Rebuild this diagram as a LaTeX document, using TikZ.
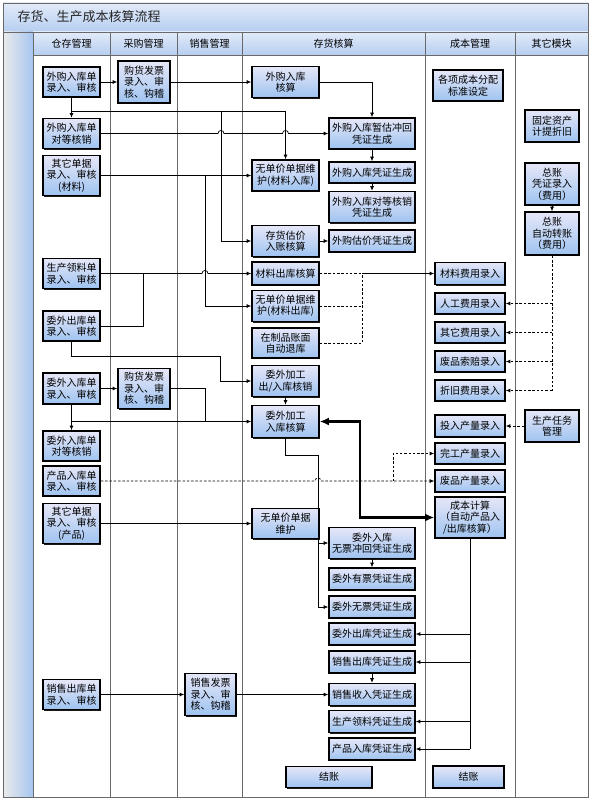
\documentclass[tikz,border=0pt]{standalone}
\usepackage{fontspec}
\newfontfamily\cjk{Noto Sans CJK SC}
\usetikzlibrary{arrows.meta,shadows}
\definecolor{boxtop}{RGB}{230,231,248}
\definecolor{boxbot}{RGB}{158,195,240}
\definecolor{hdrtop}{RGB}{226,235,249}
\definecolor{hdrbot}{RGB}{182,206,240}
\definecolor{stripblue}{RGB}{166,198,240}
\definecolor{lanegray}{RGB}{105,105,105}
\tikzset{
  box/.style={draw=black, line width=1.6pt, top color=boxtop, bottom color=boxbot,
    align=center, inner sep=1pt, font=\cjk\fontsize{10}{11.5}\selectfont,
    drop shadow={shadow xshift=1.4pt, shadow yshift=-1.4pt, fill=black!90, opacity=1}},
  hdr/.style={font=\cjk\fontsize{10}{11.5}\selectfont},
  ln/.style={line width=0.7pt, draw=black},
  arr/.style={ln, -{Latex[length=4.5pt,width=4pt]}},
  dsh/.style={ln, dash pattern=on 2.5pt off 1.8pt},
  thk/.style={line width=2.2pt, {Latex[length=9pt,width=8pt]}-{Latex[length=9pt,width=8pt]}},
  lane/.style={draw=lanegray, line width=0.8pt}
}
\begin{document}
\begin{tikzpicture}[x=1pt, y=-1pt]
        \useasboundingbox (0,0) rectangle (591,800);
        % title bar, left strip, lane headers
        \shade[top color=hdrtop, bottom color=hdrbot] (3,3) rectangle (588,32);
        \node[anchor=west, font=\cjk\fontsize{13}{15}\selectfont, text=black!85] (title) at (14,17) {存货、生产成本核算流程};
        \shade[left color=black!8, right color=stripblue] (3,32) rectangle (33,797);
        \foreach \a/\b in {33/110, 110/177, 177/242, 242/425, 425/515, 515/588}
          \shade[top color=hdrtop, bottom color=hdrbot] (\a,32) rectangle (\b,55);
        \node[hdr] (hCc) at (71.5,43.5) {仓存管理};
        \node[hdr] (hCg) at (143.5,43.5) {采购管理};
        \node[hdr] (hXs) at (209.5,43.5) {销售管理};
        \node[hdr] (hCh) at (333.5,43.5) {存货核算};
        \node[hdr] (hCb) at (470,43.5) {成本管理};
        \node[hdr] (hQt) at (551.5,43.5) {其它模块};
        \foreach \x in {33, 110, 177, 242, 425, 515}
          \draw[lane] (\x,32) -- (\x,797);
        \draw[lane] (33,55) -- (588,55);
        \draw[lane] (3,32) -- (588,32);
        \draw[lane] (3,3) rectangle (588,797);

        % 仓存管理
        \node[box, minimum width=57, minimum height=30] (cgA) at (71.5,82) {外购入库单\\录入、审核};
        \node[box, minimum width=57, minimum height=30] (cgB) at (71.5,133.5) {外购入库单\\对等核销};
        \node[box, minimum width=57, minimum height=40] (cgC) at (71.5,175.5) {其它单据\\录入、审核\\(材料)};
        \node[box, minimum width=57, minimum height=30] (cgD) at (71.5,273.5) {生产领料单\\录入、审核};
        \node[box, minimum width=57, minimum height=30] (cgE) at (71.5,326) {委外出库单\\录入、审核};
        \node[box, minimum width=57, minimum height=31] (cgF) at (71.5,388.5) {委外入库单\\录入、审核};
        \node[box, minimum width=57, minimum height=30] (cgG) at (71.5,446) {委外入库单\\对等核销};
        \node[box, minimum width=57, minimum height=30] (cgH) at (71.5,481) {产品入库单\\录入、审核};
        \node[box, minimum width=57, minimum height=40] (cgI) at (71.5,523.5) {其它单据\\录入、审核\\(产品)};
        \node[box, minimum width=57, minimum height=30] (cgJ) at (71.5,694.5) {销售出库单\\录入、审核};

        % 采购管理, 销售管理
        \node[box, minimum width=52, minimum height=42] (cgFpA) at (144,82) {购货发票\\录入、审\\核、钩稽};
        \node[box, minimum width=52, minimum height=40] (cgFpB) at (144,388.5) {购货发票\\录入、审\\核、钩稽};
        \node[box, minimum width=51, minimum height=42] (xsFp) at (210.5,694.5) {销售发票\\录入、审\\核、钩稽};

        % 存货核算
        \node[box, minimum width=67, minimum height=31] (chA) at (285.5,82) {外购入库\\核算};
        \node[box, minimum width=67, minimum height=31] (chB) at (285.5,175.5) {无单价单据维\\护(材料入库)};
        \node[box, minimum width=67, minimum height=31] (chC) at (285.5,241) {存货估价\\入账核算};
        \node[box, minimum width=67, minimum height=23] (chD) at (285.5,273.5) {材料出库核算};
        \node[box, minimum width=67, minimum height=31] (chE) at (285.5,306) {无单价单据维\\护(材料出库)};
        \node[box, minimum width=67, minimum height=30] (chF) at (285.5,343) {在制品账面\\自动退库};
        \node[box, minimum width=67, minimum height=31] (chG) at (285.5,381) {委外加工\\出/入库核销};
        \node[box, minimum width=67, minimum height=32] (chH) at (285.5,421.5) {委外加工\\入库核算};
        \node[box, minimum width=67, minimum height=30] (chI) at (285.5,523.5) {无单价单据\\维护};
        \node[box, minimum width=86, minimum height=21] (chJ) at (329,777) {结账};

        \node[box, minimum width=86, minimum height=31] (pzA) at (372,133.5) {外购入库暂估冲回\\凭证生成};
        \node[box, minimum width=86, minimum height=21] (pzB) at (372,172.5) {外购入库凭证生成};
        \node[box, minimum width=86, minimum height=31] (pzC) at (372,207) {外购入库对等核销\\凭证生成};
        \node[box, minimum width=86, minimum height=22] (pzD) at (372,241) {外购估价凭证生成};
        \node[box, minimum width=86, minimum height=31] (pzE) at (372,543) {委外入库\\无票冲回凭证生成};
        \node[box, minimum width=86, minimum height=22] (pzF) at (372,579) {委外有票凭证生成};
        \node[box, minimum width=86, minimum height=22] (pzG) at (372,607) {委外无票凭证生成};
        \node[box, minimum width=86, minimum height=22] (pzH) at (372,634) {委外出库凭证生成};
        \node[box, minimum width=86, minimum height=22] (pzI) at (372,662) {销售出库凭证生成};
        \node[box, minimum width=86, minimum height=22] (pzJ) at (372,694.5) {销售收入凭证生成};
        \node[box, minimum width=86, minimum height=22] (pzK) at (372,721.5) {生产领料凭证生成};
        \node[box, minimum width=86, minimum height=22] (pzL) at (372,749) {产品入库凭证生成};

        % 成本管理
        \node[box, minimum width=70, minimum height=31] (cbA) at (468,85.5) {各项成本分配\\标准设定};
        \node[box, minimum width=70, minimum height=22] (cbB) at (470,273.5) {材料费用录入};
        \node[box, minimum width=70, minimum height=21] (cbC) at (470,303.5) {人工费用录入};
        \node[box, minimum width=70, minimum height=21] (cbD) at (470,332.5) {其它费用录入};
        \node[box, minimum width=70, minimum height=21] (cbE) at (470,361.5) {废品索赔录入};
        \node[box, minimum width=70, minimum height=21] (cbF) at (470,390.5) {折旧费用录入};
        \node[box, minimum width=70, minimum height=22] (cbG) at (470,426) {投入产量录入};
        \node[box, minimum width=70, minimum height=21] (cbH) at (470,453.5) {完工产量录入};
        \node[box, minimum width=70, minimum height=22] (cbI) at (470,481) {废品产量录入};
        \node[box, minimum width=70, minimum height=41] (cbJ) at (470,517.5) {成本计算\\（自动产品入\\/出库核算）};
        \node[box, minimum width=71, minimum height=22] (cbK) at (468.5,777) {结账};

        % 其它模块
        \node[box, minimum width=54, minimum height=32] (qtA) at (552,126) {固定资产\\计提折旧};
        \node[box, minimum width=54, minimum height=42] (qtB) at (552,184) {总账\\凭证录入\\（费用）};
        \node[box, minimum width=54, minimum height=43] (qtC) at (552,233.5) {总账\\自动转账\\（费用）};
        \node[box, minimum width=54, minimum height=32] (qtD) at (552,426) {生产任务\\管理};

        % 外购入库
        \draw[arr] (cgA.east) -- (cgFpA.west);
        \draw[arr] (cgFpA.east) -- (chA.west);
        \draw[arr] (cgA.south) -- (cgB.north);
        \draw[arr] (chA.east) -| (pzA.north);
        \coordinate (jA) at (71.5,111);
        \coordinate (jB) at (221,111);
        \draw[arr] (jA) -| (chB.north);
        \draw[arr] (jB) |- (chC.west);
        \draw[arr] (cgB.east) -- (218,133.5) .. controls (218,129.5) and (224,129.5) .. (224,133.5)
          -- (282.5,133.5) .. controls (282.5,129.5) and (288.5,129.5) .. (288.5,133.5) -- (pzA.west);
        \draw[arr] (cgC.east) -- (chB.west);
        \coordinate (jC) at (205,175.5);
        \draw[arr] (jC) |- (chE.west);
        \draw[arr] (pzA.south) -- (pzB.north);
        \draw[arr] (pzB.south) -- (pzC.north);
        \draw[arr] (chC.east) -- (pzD.west);

        % 材料出库, 委外
        \draw[arr] (cgD.east) -- (202,273.5) .. controls (202,269.5) and (208,269.5) .. (208,273.5) -- (chD.west);
        \coordinate (jE) at (143,273.5);
        \draw[ln] (cgE.east) -| (jE);
        \draw[arr] (cgE.south) |- (220,356) |- (chG.west);
        \draw[arr] (cgF.east) -- (cgFpB.west);
        \draw[arr] (cgF.south) -- (cgG.north);
        \coordinate (jF) at (205,421.5);
        \draw[ln] (cgFpB.east) -| (jF);
        \draw[arr] (71.5,421.5) -- (chH.west);
        \draw[arr] (chG.south) -- (chH.north);
        \draw[thk] (chH.east) -- (360,421.5) |- (cbJ.west);
        \coordinate (jW) at (318,543);
        \draw[arr] (chH.south) |- (318,455) |- (pzE.west);
        \draw[arr] (jW) |- (pzG.west);
        \draw[arr] (pzE.south) -- (pzF.north);

        % 材料费用 (dashed)
        \coordinate (mD) at (362,273.5);
        \draw[dsh] (chD.east) -- (mD);
        \draw[dsh] (chE.east) -- (chE.east -| mD);
        \draw[dsh] (chF.east) -| (mD);
        \draw[arr] (mD) -- (cbB.west);
        \draw[dsh] (qtC.south) -- (qtC.south |- cbF.east);
        \draw[dsh, arr] (qtC.south |- cbC.east) -- (cbC.east);
        \draw[dsh, arr] (qtC.south |- cbD.east) -- (cbD.east);
        \draw[dsh, arr] (qtC.south |- cbE.east) -- (cbE.east);
        \draw[dsh, arr] (qtC.south |- cbF.east) -- (cbF.east);
        \draw[arr] (qtB.south) -- (qtC.north);
        \draw[dsh, arr] (qtD.west) -- (cbG.east);

        % 产品入库
        \draw[dsh, arr] (cgH.east) -- (315,481) .. controls (315,477) and (321,477) .. (321,481) -- (cbI.west);
        \coordinate (jH) at (393,481);
        \draw[dsh, arr] (jH) |- (cbH.west);
        \draw[arr] (cgI.east) -- (chI.west);

        % 成本计算 -> 凭证
        \draw[ln] (cbJ.south) -- (cbJ.south |- pzL.east);
        \draw[arr] (cbJ.south |- pzH.east) -- (pzH.east);
        \draw[arr] (cbJ.south |- pzI.east) -- (pzI.east);
        \draw[arr] (cbJ.south |- pzK.east) -- (pzK.east);
        \draw[arr] (cbJ.south |- pzL.east) -- (pzL.east);

        % 销售
        \draw[arr] (cgJ.east) -- (xsFp.west);
        \draw[arr] (xsFp.east) -- (pzJ.west);
        \draw[arr] (pzI.south) -- (pzJ.north);
      \end{tikzpicture}
\end{document}
